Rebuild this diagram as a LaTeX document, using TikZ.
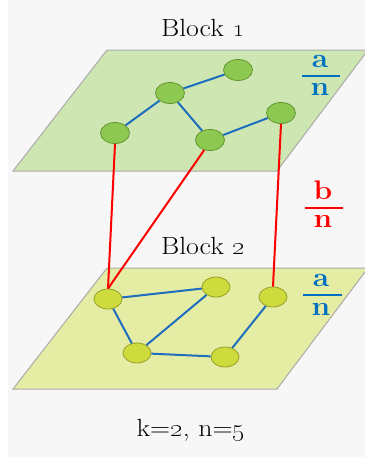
\documentclass[tikz,border=0pt]{standalone}
\usetikzlibrary{shapes.geometric}
\definecolor{bgc}{RGB}{247,247,247}
\definecolor{planeA}{RGB}{206,231,178}
\definecolor{planeB}{RGB}{229,236,163}
\definecolor{planeEdge}{RGB}{170,170,170}
\definecolor{nodeA}{RGB}{141,200,80}
\definecolor{nodeAedge}{RGB}{100,150,50}
\definecolor{nodeB}{RGB}{205,220,60}
\definecolor{nodeBedge}{RGB}{150,160,40}
\definecolor{edgeBlue}{RGB}{30,110,190}
\definecolor{txtBlue}{RGB}{0,112,192}
\definecolor{lnRed}{RGB}{255,0,0}
\tikzset{
  plane/.style={draw=planeEdge, line width=1pt},
  vtxA/.style={ellipse, fill=nodeA, draw=nodeAedge, line width=0.8pt, minimum width=29pt, minimum height=21pt, inner sep=0pt},
  vtxB/.style={ellipse, fill=nodeB, draw=nodeBedge, line width=0.8pt, minimum width=28pt, minimum height=20pt, inner sep=0pt},
  blueedge/.style={draw=edgeBlue, line width=2pt},
  rededge/.style={draw=lnRed, line width=2pt},
  title/.style={font=\fontsize{24.88}{28}\selectfont, inner sep=0pt, xscale=1.12},
  fracletter/.style={font=\fontsize{24.88}{28}\selectfont\bfseries, inner sep=0pt, xscale=1.2, yscale=1.08},
  fracbar/.style={line width=1.2pt}
}
\begin{document}
\begin{tikzpicture}[x=1pt,y=-1pt]
\useasboundingbox (0,0) rectangle (365,459);
\fill[white] (0,0) rectangle (365,459);
\fill[bgc] (8,0) rectangle (365,457);
% planes
\draw[plane, fill=planeA] (107,50) -- (368,50) -- (277,171) -- (13,171) -- cycle;
\draw[plane, fill=planeB] (107,268) -- (368,268) -- (277,389) -- (13,389) -- cycle;
% titles
\node[title] (t1) at (203,28) {Block \oldstylenums{1}};
\node[title] (t2) at (203,246) {Block \oldstylenums{2}};
\node[title] (t3) at (191,430) {k=\oldstylenums{2}, n=\oldstylenums{5}};
% block 1 nodes
\node[vtxA] (A) at (115,133) {};
\node[vtxA] (B) at (170,93) {};
\node[vtxA] (C) at (238,70) {};
\node[vtxA] (D) at (210,140) {};
\node[vtxA] (E) at (281,113) {};
% block 2 nodes
\node[vtxB] (F) at (108,299) {};
\node[vtxB] (G) at (216,287) {};
\node[vtxB] (H) at (273,297) {};
\node[vtxB] (I) at (137,353) {};
\node[vtxB] (J) at (225,357) {};
% blue edges
\draw[blueedge] (A) -- (B);
\draw[blueedge] (B) -- (C);
\draw[blueedge] (B) -- (D);
\draw[blueedge] (D) -- (E);
\draw[blueedge] (F) -- (G);
\draw[blueedge] (F) -- (I);
\draw[blueedge] (I) -- (G);
\draw[blueedge] (I) -- (J);
\draw[blueedge] (J) -- (H);
% red edges
\draw[rededge] (A.south) -- (F.north);
\draw[rededge] (D.-120) -- (F.north);
\draw[rededge] (E.south) -- (H.north);
% fractions
\node[fracletter, text=txtBlue] (a1) at (320,61) {a};
\node[fracletter, text=txtBlue] (n1) at (320,89) {n};
\draw[fracbar, txtBlue] (302,76) -- (340,76);
\node[fracletter, text=lnRed] (b2) at (323,190) {b};
\node[fracletter, text=lnRed] (n2) at (323,221) {n};
\draw[fracbar, lnRed] (305,208) -- (343,208);
\node[fracletter, text=txtBlue] (a3) at (321,280) {a};
\node[fracletter, text=txtBlue] (n3) at (321,309) {n};
\draw[fracbar, txtBlue] (303,295) -- (342,295);
\end{tikzpicture}
\end{document}
